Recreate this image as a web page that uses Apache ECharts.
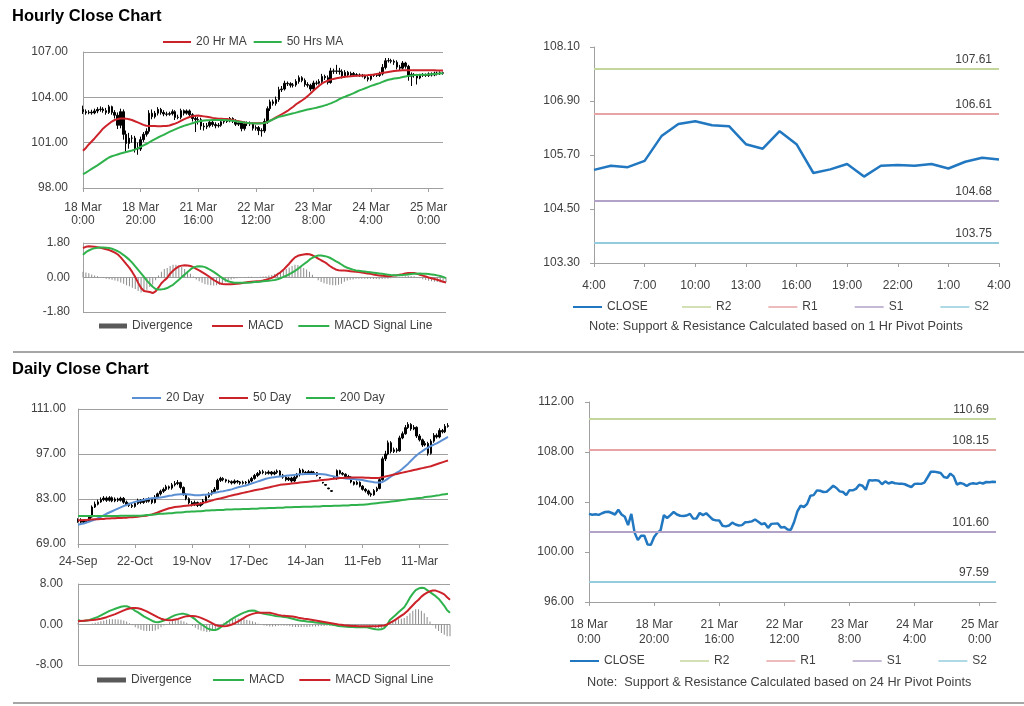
<!DOCTYPE html>
<html><head><meta charset="utf-8">
<script src="https://cdn.jsdelivr.net/npm/echarts@6.0.0/dist/echarts.min.js"></script>
<style>html,body{margin:0;padding:0;background:#fff}#c{width:1024px;height:706px}</style>
</head><body><div id="c"></div><script>
// ---------------- DATA ----------------
const hourClose = [103.05,102.98,103.02,102.97,103.10,103.20,103.22,103.12,103.00,103.38,
103.00,102.82,102.15,103.05,101.55,100.95,101.30,101.30,100.60,100.58,
101.20,101.55,101.75,102.95,102.72,102.95,103.20,103.00,102.90,102.88,
102.92,103.05,102.67,102.68,103.12,102.95,103.10,102.85,102.60,102.53,
102.52,102.10,102.05,102.12,102.35,102.20,102.12,102.15,102.38,102.40,
102.45,102.60,102.42,102.22,102.30,101.93,102.25,102.27,102.28,101.95,
102.00,101.80,101.78,102.40,103.25,103.70,103.60,103.85,104.50,104.55,
104.93,104.90,104.80,104.82,105.05,105.30,105.12,104.85,104.80,104.55,
104.95,104.93,105.05,105.38,105.30,104.98,105.75,105.72,105.75,105.70,
105.42,105.65,105.48,105.58,105.50,105.47,105.47,105.42,105.30,105.20,
105.45,105.47,105.45,105.55,105.98,106.42,106.43,106.38,106.32,106.00,
105.93,106.27,106.05,105.40,105.52,105.45,105.28,105.45,105.50,105.45,
105.55,105.48,105.60,105.58,105.62,105.60];
const hourOpen = [103.20,103.05,102.98,103.02,102.97,103.10,103.20,103.22,103.12,103.00,
103.38,103.00,102.82,102.15,103.05,101.55,100.95,101.30,101.30,100.60,
100.58,101.20,101.55,101.75,102.95,102.72,102.95,103.20,103.00,102.90,
102.88,102.92,103.05,102.67,102.68,103.12,102.95,103.10,102.85,102.60,
102.53,102.52,102.10,102.05,102.12,102.35,102.20,102.12,102.15,102.38,
102.40,102.45,102.60,102.42,102.22,102.30,101.93,102.25,102.27,102.28,
101.95,102.00,101.80,101.78,102.40,103.25,103.70,103.60,103.85,104.50,
104.55,104.93,104.90,104.80,104.82,105.05,105.30,105.12,104.85,104.80,
104.55,104.95,104.93,105.05,105.38,105.30,104.98,105.75,105.72,105.75,
105.70,105.42,105.65,105.48,105.58,105.50,105.47,105.47,105.42,105.30,
105.20,105.45,105.47,105.45,105.55,105.98,106.42,106.43,106.38,106.32,
106.00,105.93,106.27,106.05,105.40,105.52,105.45,105.28,105.45,105.50,
105.45,105.55,105.48,105.60,105.58,105.62];
const hourHigh = [103.45,103.20,103.15,103.18,103.25,103.35,103.40,103.35,103.30,103.50,
103.45,103.15,103.00,103.25,103.20,101.80,101.65,101.50,101.45,101.00,
101.40,101.70,101.95,103.15,103.20,103.10,103.35,103.30,103.15,103.05,
103.05,103.20,103.15,102.85,103.25,103.20,103.20,103.20,102.95,102.75,
102.70,102.65,102.30,102.30,102.50,102.45,102.35,102.30,102.50,102.55,
102.55,102.70,102.68,102.55,102.45,102.40,102.40,102.40,102.40,102.35,
102.15,102.10,101.95,102.60,103.40,103.85,103.85,104.05,104.70,104.75,
105.10,105.05,105.00,104.95,105.20,105.45,105.40,105.25,105.00,104.90,
105.10,105.10,105.20,105.55,105.50,105.45,105.95,105.90,106.15,105.95,
105.85,105.80,105.75,105.70,105.68,105.60,105.58,105.55,105.50,105.40,
105.55,105.55,105.55,105.70,106.20,106.60,106.60,106.55,106.50,106.45,
106.15,106.40,106.35,106.15,105.65,105.60,105.55,105.55,105.60,105.58,
105.65,105.65,105.70,105.70,105.72,105.70];
const hourLow = [102.90,102.85,102.88,102.85,102.88,102.95,103.05,102.98,102.85,102.90,
102.85,102.60,101.90,101.95,101.20,100.40,100.60,101.00,100.35,100.20,
100.45,101.05,101.40,101.60,102.55,102.60,102.80,102.85,102.75,102.75,
102.78,102.80,102.50,102.55,102.55,102.80,102.85,102.70,102.40,101.70,
102.20,101.85,101.80,101.90,102.00,102.05,101.95,102.00,102.05,102.25,
102.30,102.35,102.30,102.10,102.10,101.75,101.80,102.10,102.10,101.80,
101.80,101.50,101.40,101.65,102.25,103.10,103.45,103.45,103.70,104.35,
104.45,104.75,104.65,104.65,104.70,104.90,105.00,104.70,104.65,104.40,
104.45,104.80,104.85,104.95,105.15,104.85,104.90,105.55,105.55,105.50,
105.25,105.30,105.35,105.38,105.40,105.38,105.35,105.32,105.20,105.05,
105.10,105.35,105.35,105.35,105.45,105.85,106.30,106.25,106.15,105.85,
105.80,105.85,105.90,105.10,104.75,105.30,104.85,105.20,105.35,105.35,
105.35,105.38,105.40,105.45,105.48,105.50];
const hourMA20 = [100.46,100.65,100.88,101.08,101.28,101.5,101.72,101.94,102.1,102.25,
102.4,102.5,102.56,102.6,102.6,102.59,102.55,102.5,102.42,102.34,
102.26,102.18,102.12,102.1,102.1,102.1,102.09,102.09,102.1,102.11,
102.14,102.2,102.26,102.34,102.44,102.54,102.62,102.7,102.75,102.78,
102.79,102.77,102.74,102.71,102.68,102.64,102.61,102.59,102.58,102.57,
102.56,102.53,102.5,102.46,102.42,102.38,102.34,102.31,102.29,102.28,
102.28,102.28,102.29,102.3,102.36,102.46,102.56,102.67,102.77,102.88,
102.99,103.1,103.24,103.38,103.54,103.67,103.79,103.92,104.08,104.26,
104.44,104.6,104.76,104.92,105.02,105.1,105.17,105.22,105.26,105.3,
105.33,105.36,105.38,105.39,105.41,105.42,105.43,105.44,105.45,105.47,
105.48,105.51,105.55,105.58,105.62,105.65,105.68,105.71,105.74,105.76,
105.78,105.79,105.8,105.8,105.8,105.8,105.8,105.8,105.8,105.8,
105.8,105.79,105.79,105.78,105.78,105.77];
const hourMA50 = [98.91,99.02,99.14,99.26,99.38,99.5,99.63,99.76,99.89,100.02,
100.1,100.16,100.22,100.28,100.33,100.38,100.43,100.48,100.54,100.62,
100.72,100.82,100.91,101.02,101.13,101.24,101.34,101.43,101.52,101.62,
101.71,101.8,101.88,101.96,102.04,102.11,102.17,102.23,102.29,102.35,
102.4,102.43,102.46,102.48,102.49,102.5,102.5,102.5,102.5,102.5,
102.49,102.47,102.45,102.42,102.39,102.36,102.33,102.31,102.29,102.28,
102.27,102.27,102.28,102.3,102.36,102.45,102.54,102.63,102.71,102.75,
102.8,102.85,102.9,102.94,102.99,103.04,103.09,103.14,103.19,103.23,
103.27,103.31,103.36,103.41,103.47,103.53,103.6,103.68,103.77,103.88,
103.97,104.04,104.12,104.2,104.28,104.37,104.46,104.53,104.6,104.68,
104.76,104.82,104.88,104.94,105.02,105.1,105.16,105.2,105.24,105.27,
105.3,105.34,105.38,105.42,105.45,105.47,105.48,105.49,105.5,105.5,
105.51,105.53,105.55,105.56,105.58,105.59];
const hourMACD = [1.54,1.6,1.63,1.62,1.6,1.58,1.55,1.51,1.47,1.43,
1.37,1.3,1.2,1.05,0.87,0.68,0.5,0.28,0.02,-0.28,
-0.55,-0.7,-0.73,-0.76,-0.81,-0.72,-0.52,-0.3,-0.15,-0.02,
0.2,0.35,0.48,0.58,0.62,0.64,0.63,0.6,0.54,0.45,
0.37,0.28,0.19,0.09,-0.02,-0.13,-0.22,-0.3,-0.34,-0.35,
-0.35,-0.35,-0.34,-0.33,-0.31,-0.29,-0.26,-0.23,-0.22,-0.21,
-0.2,-0.19,-0.16,-0.12,-0.07,-0.02,0.06,0.17,0.27,0.4,
0.56,0.72,0.9,1.05,1.13,1.17,1.2,1.23,1.21,1.16,
1.08,0.99,0.9,0.82,0.72,0.6,0.5,0.42,0.38,0.37,
0.36,0.35,0.33,0.31,0.3,0.28,0.26,0.24,0.21,0.19,
0.16,0.13,0.11,0.09,0.08,0.07,0.08,0.1,0.11,0.14,
0.17,0.21,0.24,0.24,0.24,0.2,0.14,0.1,0.05,0.0,
-0.04,-0.08,-0.12,-0.17,-0.22,-0.26];
const hourSignal = [1.19,1.32,1.41,1.48,1.53,1.55,1.56,1.56,1.55,1.54,
1.5,1.44,1.37,1.28,1.17,1.05,0.92,0.76,0.58,0.4,
0.22,0.03,-0.16,-0.33,-0.48,-0.6,-0.63,-0.62,-0.6,-0.55,
-0.46,-0.38,-0.25,-0.12,0.02,0.15,0.29,0.42,0.52,0.57,
0.59,0.58,0.54,0.47,0.38,0.29,0.19,0.08,-0.03,-0.12,
-0.2,-0.24,-0.27,-0.28,-0.28,-0.28,-0.28,-0.27,-0.26,-0.24,
-0.23,-0.22,-0.2,-0.18,-0.17,-0.15,-0.13,-0.09,-0.04,0.03,
0.09,0.17,0.26,0.35,0.45,0.57,0.69,0.8,0.93,1.03,
1.1,1.15,1.15,1.12,1.09,1.03,0.95,0.86,0.78,0.68,
0.58,0.51,0.46,0.41,0.37,0.35,0.33,0.31,0.29,0.27,
0.25,0.23,0.21,0.19,0.17,0.15,0.13,0.12,0.12,0.12,
0.13,0.14,0.16,0.18,0.19,0.2,0.21,0.2,0.19,0.18,
0.16,0.14,0.11,0.08,0.03,-0.03];
const hourDiv = [0.3,0.26,0.22,0.16,0.1,0.06,0.02,-0.03,-0.06,-0.09,
-0.12,-0.16,-0.2,-0.26,-0.33,-0.4,-0.46,-0.54,-0.6,-0.7,
-0.78,-0.76,-0.64,-0.5,-0.36,-0.14,0.1,0.3,0.45,0.5,
0.6,0.66,0.66,0.62,0.55,0.45,0.33,0.2,0.05,-0.1,
-0.2,-0.28,-0.35,-0.38,-0.4,-0.42,-0.41,-0.38,-0.32,-0.23,
-0.15,-0.1,-0.06,-0.04,-0.02,0.0,0.02,0.04,0.04,0.03,
0.03,0.04,0.05,0.07,0.1,0.13,0.18,0.25,0.3,0.36,
0.45,0.52,0.6,0.66,0.65,0.58,0.5,0.42,0.3,0.15,
0.0,-0.14,-0.24,-0.3,-0.34,-0.38,-0.4,-0.4,-0.38,-0.32,
-0.22,-0.16,-0.12,-0.1,-0.07,-0.06,-0.06,-0.06,-0.07,-0.07,
-0.08,-0.08,-0.09,-0.08,-0.07,-0.06,-0.04,-0.02,0.0,0.02,
0.04,0.06,0.08,0.08,0.06,0.02,-0.04,-0.09,-0.13,-0.17,
-0.2,-0.22,-0.24,-0.26,-0.27,-0.25];
const pivot1hClose = [105.37,105.46,105.43,105.57,106.12,106.39,106.45,106.36,106.34,105.94,
105.84,106.23,105.94,105.30,105.38,105.50,105.22,105.46,105.48,105.46,
105.50,105.40,105.55,105.64,105.60];
const levelNames = ['R2','R1','S1','S2'];
const pivot1hLevels = [107.61,106.61,104.68,103.75];
const pivot24hLevels = [110.69,108.15,101.60,97.59];

const dailyOpen = [76.0,76.5,75.8,76.2,76.0,77.4,80.5,81.4,82.1,82.8,
83.3,82.6,83.4,82.4,83.0,82.6,83.2,82.0,81.3,81.0,
80.7,81.6,82.6,81.9,82.8,82.3,82.9,81.9,83.6,84.6,
85.4,86.0,86.8,86.4,87.4,87.8,88.1,86.6,84.4,83.1,
81.8,81.2,81.9,81.0,81.5,82.4,83.7,84.6,85.3,86.0,
88.8,89.4,89.0,88.6,88.4,88.0,88.6,88.3,87.9,88.2,
88.0,88.6,89.4,90.3,90.9,91.5,91.2,91.0,91.4,90.8,
91.3,91.7,90.4,89.8,89.0,89.5,88.6,89.8,90.6,92.0,
91.3,91.0,91.5,91.1,91.2,89.7,88.2,87.5,86.4,85.6,
89.4,89.6,91.8,91.0,90.7,90.0,89.8,88.3,87.6,88.2,
87.0,86.0,85.5,84.6,84.3,85.6,86.3,89.0,95.5,97.0,
100.5,97.8,98.3,98.0,102.0,103.3,105.2,106.2,104.8,105.3,
102.6,101.4,99.8,100.3,97.2,101.0,102.8,102.3,104.3,103.9,
105.6];
const dailyClose = [76.5,75.8,76.2,76.0,77.4,80.5,81.4,82.1,82.8,83.3,
82.6,83.4,82.4,83.0,82.6,83.2,82.0,81.3,81.0,80.7,
81.6,82.6,81.9,82.8,82.3,82.9,81.9,83.6,84.6,85.4,
86.0,86.8,86.4,87.4,87.8,88.1,86.6,84.4,83.1,81.8,
81.2,81.9,81.0,81.5,82.4,83.7,84.6,85.3,86.0,88.8,
89.4,89.0,88.6,88.4,88.0,88.6,88.3,87.9,88.2,88.0,
88.6,89.4,90.3,90.9,91.5,91.2,91.0,91.4,90.8,91.3,
91.7,90.4,89.8,89.0,89.5,88.6,89.8,90.6,92.0,91.3,
91.0,91.5,91.1,91.2,90.3,89.5,88.0,87.3,86.2,85.4,
89.6,91.8,91.0,90.7,90.0,89.8,88.3,87.6,88.2,87.0,
86.0,85.5,84.6,84.3,85.6,86.3,89.0,95.5,97.0,100.5,
97.8,98.3,98.0,102.0,103.3,105.2,106.2,104.8,105.3,102.6,
101.4,99.8,100.3,97.2,101.0,102.8,102.3,104.3,103.9,105.6,
105.8];
const dailyHigh = [77.0,77.0,76.6,76.7,77.8,81.0,82.2,82.8,83.5,83.9,
83.8,83.9,83.8,83.5,83.4,83.7,83.6,82.5,81.8,81.5,
82.0,83.1,83.0,83.3,83.2,83.5,83.3,84.2,85.0,85.9,
86.6,87.4,87.2,88.0,88.6,88.9,88.4,86.9,84.8,83.5,
82.4,82.5,82.2,82.0,83.0,84.2,85.1,85.8,86.7,89.3,
89.9,89.8,89.3,89.0,88.8,89.1,88.9,88.6,88.7,88.6,
89.1,89.9,90.8,91.4,92.0,92.1,91.6,91.9,91.7,91.8,
92.2,92.0,90.8,90.2,89.9,89.9,90.3,91.1,92.6,92.4,
91.7,92.0,91.8,91.7,91.4,89.8,88.3,87.6,86.5,85.7,
89.8,92.2,92.1,91.4,91.0,90.5,90.1,88.5,88.7,88.5,
87.3,86.4,85.9,85.0,86.1,86.8,89.6,96.2,98.0,101.2,
101.0,99.0,98.9,102.7,104.0,106.0,106.9,106.6,106.0,105.6,
103.2,101.8,101.0,100.8,101.6,103.5,103.4,105.0,104.8,106.3,
106.6];
const dailyLow = [75.6,75.3,75.4,75.5,75.8,77.2,80.2,81.0,81.8,82.3,
82.1,82.2,82.0,82.0,82.1,82.2,81.5,80.8,80.5,80.2,
80.3,81.2,81.4,81.5,81.8,81.9,81.4,81.6,83.2,84.1,
84.9,85.5,85.9,85.9,86.9,87.3,86.0,84.0,82.6,81.3,
80.7,80.8,80.5,80.6,81.1,82.0,83.3,84.1,84.9,85.7,
88.3,88.5,88.1,87.9,87.5,87.6,87.8,87.4,87.5,87.5,
87.6,88.2,89.0,89.8,90.4,90.7,90.5,90.6,90.3,90.4,
90.8,90.0,89.3,88.5,88.6,88.1,88.3,89.3,90.0,91.0,
90.5,90.6,90.7,90.6,90.0,89.3,87.8,87.1,86.0,85.2,
89.2,89.0,90.6,90.3,89.6,89.3,87.9,87.2,87.3,86.6,
85.6,85.0,84.1,83.7,84.0,85.2,86.0,88.7,94.8,96.6,
97.2,97.3,97.4,97.7,101.6,103.0,104.8,104.2,104.4,102.0,
100.9,99.2,99.4,96.5,96.8,100.5,101.8,101.9,103.4,103.5,
105.2];
const dailyMA20 = [75.0,75.2,75.4,75.7,76.0,76.3,76.6,77.0,77.4,77.9,
78.4,78.8,79.2,79.6,80.0,80.4,80.8,81.1,81.5,81.8,
82.1,82.3,82.5,82.7,82.9,83.1,83.2,83.3,83.4,83.5,
83.6,83.8,84.0,84.1,84.3,84.4,84.5,84.5,84.5,84.4,
84.3,84.2,84.2,84.2,84.3,84.3,84.5,84.7,84.9,85.1,
85.3,85.4,85.6,85.8,86.0,86.3,86.6,86.8,87.0,87.2,
87.5,87.8,88.1,88.4,88.7,89.0,89.3,89.5,89.7,89.8,
89.9,90.0,90.1,90.2,90.3,90.4,90.5,90.6,90.7,90.7,
90.8,90.8,90.8,90.8,90.8,90.8,90.7,90.6,90.4,90.2,
90.0,89.8,89.6,89.5,89.4,89.3,89.2,89.2,89.1,89.0,
88.9,88.7,88.5,88.4,88.2,88.1,88.1,88.3,88.8,89.4,
90.0,90.6,91.2,91.7,92.4,93.2,94.0,94.9,95.8,96.6,
97.3,97.9,98.5,99.0,99.5,99.9,100.3,100.8,101.3,101.8,
102.3];
const dailyMA50 = [76.4,76.4,76.5,76.5,76.6,76.6,76.7,76.7,76.8,76.8,
76.9,76.9,77.0,77.0,77.1,77.1,77.2,77.2,77.3,77.3,
77.4,77.5,77.6,77.7,77.8,78.0,78.2,78.5,78.8,79.2,
79.5,79.8,80.1,80.3,80.5,80.6,80.7,80.8,80.9,81.0,
81.1,81.3,81.4,81.6,81.8,82.0,82.3,82.5,82.8,83.0,
83.2,83.4,83.6,83.9,84.1,84.3,84.5,84.7,84.9,85.1,
85.3,85.5,85.7,85.9,86.0,86.2,86.4,86.6,86.8,87.0,
87.2,87.4,87.5,87.6,87.7,87.8,87.9,88.0,88.1,88.2,
88.3,88.4,88.5,88.6,88.7,88.8,88.9,89.0,89.1,89.2,
89.3,89.4,89.5,89.5,89.6,89.6,89.7,89.7,89.7,89.7,
89.7,89.6,89.6,89.5,89.5,89.5,89.6,89.8,90.0,90.2,
90.4,90.6,90.8,91.0,91.2,91.4,91.6,91.8,92.0,92.2,
92.4,92.6,92.8,93.0,93.2,93.5,93.8,94.1,94.4,94.7,
95.0];
const dailyMA200 = [77.7,77.7,77.7,77.7,77.7,77.7,77.7,77.7,77.7,77.7,
77.7,77.7,77.7,77.7,77.7,77.8,77.8,77.8,77.8,77.8,
77.8,77.8,77.8,77.9,78.0,78.0,78.1,78.2,78.3,78.4,
78.4,78.5,78.6,78.6,78.7,78.8,78.8,78.9,79.0,79.0,
79.1,79.1,79.2,79.2,79.3,79.4,79.4,79.5,79.5,79.6,
79.6,79.6,79.7,79.7,79.7,79.8,79.8,79.8,79.9,79.9,
79.9,80.0,80.0,80.0,80.1,80.1,80.1,80.2,80.2,80.2,
80.3,80.3,80.3,80.4,80.4,80.4,80.5,80.5,80.5,80.6,
80.6,80.6,80.6,80.7,80.7,80.7,80.8,80.8,80.8,80.8,
80.9,80.9,80.9,81.0,81.0,81.0,81.1,81.1,81.1,81.2,
81.2,81.3,81.4,81.5,81.6,81.7,81.8,81.9,82.0,82.1,
82.2,82.3,82.4,82.5,82.7,82.8,82.9,83.0,83.1,83.2,
83.3,83.4,83.6,83.7,83.8,83.9,84.1,84.2,84.4,84.5,
84.6];
const dailyMACD = [0.9,0.7,0.7,0.8,0.9,1.1,1.3,1.5,1.8,2.1,
2.4,2.7,2.9,3.1,3.3,3.5,3.6,3.6,3.4,3.1,
2.7,2.4,2.0,1.6,1.3,1.0,0.7,0.5,0.45,0.6,
0.8,1.0,1.3,1.6,1.85,2.0,2.1,2.1,2.0,1.75,
1.4,1.0,0.5,0.1,-0.3,-0.7,-0.95,-1.1,-1.1,-0.9,
-0.5,0.0,0.4,0.8,1.15,1.5,1.8,2.1,2.35,2.55,
2.7,2.75,2.7,2.45,2.25,2.1,2.0,1.9,1.8,1.7,
1.65,1.6,1.5,1.45,1.3,1.15,1.0,0.85,0.75,0.7,
0.6,0.55,0.5,0.4,0.35,0.3,0.2,0.15,0.05,-0.05,
-0.15,-0.3,-0.35,-0.4,-0.45,-0.5,-0.5,-0.55,-0.55,-0.55,
-0.55,-0.55,-0.7,-0.85,-0.95,-1.0,-0.95,-0.7,-0.1,0.9,
1.4,1.9,2.4,2.9,3.4,4.3,5.3,6.1,6.8,7.1,
7.25,7.2,6.8,6.4,6.0,5.6,5.1,4.4,3.7,2.8,
2.3];
const dailySignal = [0.65,0.7,0.75,0.8,0.82,0.88,0.95,1.05,1.15,1.3,
1.45,1.65,1.85,2.05,2.3,2.55,2.8,3.0,3.15,3.25,
3.25,3.2,3.05,2.85,2.6,2.3,2.0,1.7,1.4,1.15,
1.0,0.9,0.85,0.9,1.0,1.1,1.3,1.5,1.65,1.7,
1.7,1.65,1.5,1.3,1.05,0.8,0.5,0.2,-0.1,-0.25,
-0.3,-0.33,-0.3,-0.15,0.05,0.3,0.6,0.95,1.3,1.65,
1.9,2.1,2.25,2.3,2.3,2.3,2.3,2.3,2.2,2.05,
1.9,1.8,1.75,1.7,1.65,1.6,1.5,1.35,1.25,1.15,
1.1,1.0,0.9,0.8,0.7,0.6,0.5,0.4,0.3,0.2,
0.1,0.0,-0.05,-0.15,-0.2,-0.25,-0.3,-0.3,-0.33,-0.35,
-0.35,-0.35,-0.35,-0.35,-0.33,-0.3,-0.25,-0.2,0.0,0.3,
0.6,0.95,1.35,1.75,2.1,2.6,3.2,3.8,4.4,4.9,
5.5,5.95,6.3,6.55,6.7,6.7,6.5,6.25,5.95,5.4,
4.9];
const dailyDiv = [0.25,0.0,-0.05,0.0,0.1,0.2,0.35,0.45,0.65,0.8,
0.95,1.05,1.05,1.05,1.0,0.95,0.8,0.6,0.25,-0.15,
-0.55,-0.8,-1.05,-1.25,-1.3,-1.3,-1.3,-1.2,-0.95,-0.55,
-0.2,0.1,0.45,0.7,0.85,0.9,0.8,0.6,0.35,0.05,
-0.3,-0.65,-1.0,-1.2,-1.35,-1.5,-1.45,-1.3,-1.0,-0.65,
-0.2,0.33,0.7,0.95,1.1,1.2,1.2,1.15,1.05,0.9,
0.8,0.65,0.45,0.15,-0.05,-0.2,-0.3,-0.4,-0.4,-0.35,
-0.25,-0.2,-0.25,-0.25,-0.35,-0.45,-0.5,-0.5,-0.5,-0.45,
-0.5,-0.45,-0.4,-0.4,-0.35,-0.3,-0.3,-0.25,-0.25,-0.25,
-0.25,-0.3,-0.3,-0.25,-0.25,-0.25,-0.2,-0.25,-0.22,-0.2,
-0.2,-0.2,-0.35,-0.5,-0.62,-0.7,-0.7,-0.5,-0.1,0.6,
0.8,0.95,1.05,1.15,1.3,1.7,2.2,2.7,3.0,3.0,
2.7,2.2,1.5,0.6,-0.15,-0.8,-1.3,-1.7,-2.0,-2.3,
-2.3];
const hourYTicks = [98,101,104,107];
const hourMacdTicks = [-1.8,0,1.8];
const pivot1hYTicks = [103.3,104.5,105.7,106.9,108.1];
const dailyYTicks = [69,83,97,111];
const dailyMacdTicks = [-8,0,8];
const pivot24hYTicks = [96,100,104,108,112];

// ---------------- CATEGORIES ----------------
const MON = ['Jan','Feb','Mar','Apr','May','Jun','Jul','Aug','Sep','Oct','Nov','Dec'];
const hourCats = [];
for (let t = Date.UTC(2011,2,18,0); hourCats.length < hourClose.length; t += 3600000) {
  const d = new Date(t), wd = d.getUTCDay();
  if (wd !== 0 && wd !== 6) hourCats.push(d.getUTCDate() + ' ' + MON[d.getUTCMonth()] + '\n' + d.getUTCHours() + ':00');
}
const dailyCats = [];
for (let t = Date.UTC(2010,8,24); dailyCats.length < dailyClose.length; t += 86400000) {
  const d = new Date(t), wd = d.getUTCDay();
  if (wd !== 0 && wd !== 6) dailyCats.push(d.getUTCDate() + '-' + MON[d.getUTCMonth()]);
}
const pivotCats = pivot1hClose.map((_, k) => ((4 + k) % 24) + ':00');

// ---------------- STYLE ----------------
const FONT = '"Liberation Sans", Arial, sans-serif';
const TXT = '#404040';
const AX = '#a0a0a0';
const levelColors = ['#c3d69b', '#e6a5a4', '#b3a2c7', '#93cddd'];

function xAx(gi, cats, interval, margin, lh, show) {
  return {type: 'category', gridIndex: gi, data: cats, boundaryGap: false,
    axisLine: {show: show, lineStyle: {color: AX}},
    axisTick: {show: show, interval: interval, length: 4, lineStyle: {color: AX}},
    axisLabel: {show: show, interval: interval, margin: margin, lineHeight: lh, color: TXT, fontSize: 12, fontFamily: FONT},
    splitLine: {show: false}};
}
function yAx(gi, ticks, margin, split, tick) {
  return {type: 'value', gridIndex: gi, min: ticks[0], max: ticks[ticks.length - 1],
    axisLine: {show: true, lineStyle: {color: AX}},
    axisTick: {show: tick, length: 4, lineStyle: {color: AX}, customValues: ticks},
    axisLabel: {customValues: ticks, margin: margin, color: TXT, fontSize: 12, fontFamily: FONT, formatter: v => v.toFixed(2)},
    splitLine: {show: split, lineStyle: {color: AX, width: 1}}};
}
function ln(name, ai, data, color, w) {
  return {type: 'line', name: name, xAxisIndex: ai, yAxisIndex: ai, data: data, symbol: 'none', showSymbol: false,
    color: color, lineStyle: {color: color, width: w}, itemStyle: {color: color}, z: 3, silent: true};
}
function candles(name, ai, o, h, l, c) {
  return {type: 'candlestick', name: name, xAxisIndex: ai, yAxisIndex: ai, barWidth: 2, silent: true, z: 2,
    data: c.map((v, i) => [o[i], v, l[i], h[i]]),
    itemStyle: {color: '#000', color0: '#000', borderColor: '#000', borderColor0: '#000', borderWidth: 1}};
}
function divBars(name, ai, data) {
  return {type: 'bar', name: name, xAxisIndex: ai, yAxisIndex: ai, data: data, barWidth: 1, silent: true,
    color: '#8c8c8c', itemStyle: {color: '#8c8c8c'}, z: 1};
}
function pivotClose(name, ai, data, levels) {
  const s = ln(name, ai, data, '#2177c0', 2.5);
  s.markLine = {symbol: ['none', 'none'], silent: true, animation: false,
    label: {position: 'insideEndTop', distance: [7, 3], formatter: p => p.value.toFixed(2), color: TXT, fontSize: 12, fontFamily: FONT},
    data: levels.map((v, k) => ({yAxis: v, lineStyle: {color: levelColors[k], width: 2, type: 'solid'}}))};
  return s;
}
function levelSeries(suffix, ai) {
  return levelNames.map((n, k) => ({type: 'line', name: n + suffix, xAxisIndex: ai, yAxisIndex: ai, data: [],
    color: levelColors[k], lineStyle: {color: levelColors[k]}, itemStyle: {color: levelColors[k]}}));
}
function leg(left, top, names, w, h, gap) {
  return {left: left, top: top, padding: 0, itemWidth: w, itemHeight: h, itemGap: gap, icon: 'rect',
    selectedMode: false, data: names, itemStyle: {borderWidth: 0},
    textStyle: {color: TXT, fontSize: 12, fontFamily: FONT}, formatter: n => n.trim()};
}

const option = {
  animation: false,
  backgroundColor: '#fff',
  title: [
    {text: 'Hourly Close Chart', left: 12, top: 8, padding: 0, textStyle: {fontSize: 16.5, fontWeight: 'bold', color: '#000', fontFamily: FONT}},
    {text: 'Daily Close Chart', left: 12, top: 361, padding: 0, textStyle: {fontSize: 16.5, fontWeight: 'bold', color: '#000', fontFamily: FONT}},
    {text: 'Note: Support & Resistance Calculated based on 1 Hr Pivot Points', left: 589, top: 320, padding: 0, textStyle: {fontSize: 12.7, fontWeight: 'normal', color: TXT, fontFamily: FONT}},
    {text: 'Note:  Support & Resistance Calculated based on 24 Hr Pivot Points', left: 587, top: 676, padding: 0, textStyle: {fontSize: 12.7, fontWeight: 'normal', color: TXT, fontFamily: FONT}}
  ],
  graphic: [
    {type: 'line', shape: {x1: 13, y1: 352, x2: 1024, y2: 352}, style: {stroke: '#a6a6a6', lineWidth: 2}},
    {type: 'line', shape: {x1: 13, y1: 703, x2: 1024, y2: 703}, style: {stroke: '#a6a6a6', lineWidth: 2}}
  ],
  legend: [
    leg(163, 36, ['20 Hr MA', '50 Hrs MA'], 28, 2, 7),
    leg(99, 320, [{name: 'Divergence', itemStyle: {color: '#595959'}}], 28, 5, 10),
    leg(212, 320, ['MACD', 'MACD Signal Line'], 31, 2, 15),
    leg(573, 301, ['CLOSE'], 29, 2, 10),
    leg(682, 301, levelNames, 29, 1.5, 37),
    leg(132, 392, ['20 Day', '50 Day', '200 Day'], 29, 2, 15),
    leg(97, 674, [{name: 'Divergence ', itemStyle: {color: '#595959'}}], 29, 5, 10),
    leg(213, 674, ['MACD ', 'MACD Signal Line '], 31, 2, 15),
    leg(570, 655, ['CLOSE '], 29, 2, 10),
    leg(680, 655, levelNames.map(n => n + ' '), 29, 1.5, 37)
  ],
  grid: [
    {left: 83, top: 52, width: 360, height: 136},
    {left: 83, top: 243, width: 363, height: 69},
    {left: 594, top: 47, width: 405, height: 216},
    {left: 78, top: 409, width: 370, height: 135},
    {left: 78, top: 584, width: 372, height: 81},
    {left: 589, top: 402, width: 407, height: 200}
  ],
  xAxis: [
    xAx(0, hourCats, 19, 13, 13, true),
    xAx(1, hourCats, 19, 8, 13, false),
    xAx(2, pivotCats, 2, 16, 13, true),
    xAx(3, dailyCats, 19, 11, 13, true),
    xAx(4, dailyCats, 19, 8, 13, false),
    xAx(5, hourCats, 19, 15, 15, true)
  ],
  yAxis: [
    yAx(0, hourYTicks, 15, true, false),
    yAx(1, hourMacdTicks, 13, true, false),
    yAx(2, pivot1hYTicks, 14, false, true),
    yAx(3, dailyYTicks, 12, true, false),
    yAx(4, dailyMacdTicks, 15, true, false),
    yAx(5, pivot24hYTicks, 15, false, true)
  ],
  series: [
    candles('hourly bars', 0, hourOpen, hourHigh, hourLow, hourClose),
    ln('20 Hr MA', 0, hourMA20, '#cc2229', 2),
    ln('50 Hrs MA', 0, hourMA50, '#2fb24c', 2),
    divBars('Divergence', 1, hourDiv),
    ln('MACD', 1, hourMACD, '#cc2229', 2),
    ln('MACD Signal Line', 1, hourSignal, '#2fb24c', 2),
    pivotClose('CLOSE', 2, pivot1hClose, pivot1hLevels),
    ...levelSeries('', 2),
    candles('daily bars', 3, dailyOpen, dailyHigh, dailyLow, dailyClose),
    ln('20 Day', 3, dailyMA20, '#5b8fd3', 2),
    ln('50 Day', 3, dailyMA50, '#cc2229', 2),
    ln('200 Day', 3, dailyMA200, '#2fb24c', 2),
    divBars('Divergence ', 4, dailyDiv),
    ln('MACD ', 4, dailyMACD, '#2fb24c', 2),
    ln('MACD Signal Line ', 4, dailySignal, '#cc2229', 2),
    pivotClose('CLOSE ', 5, hourClose, pivot24hLevels),
    ...levelSeries(' ', 5)
  ]
};
const chart = echarts.init(document.getElementById('c'), null, {renderer: 'canvas'});
chart.setOption(option);
</script></body></html>
